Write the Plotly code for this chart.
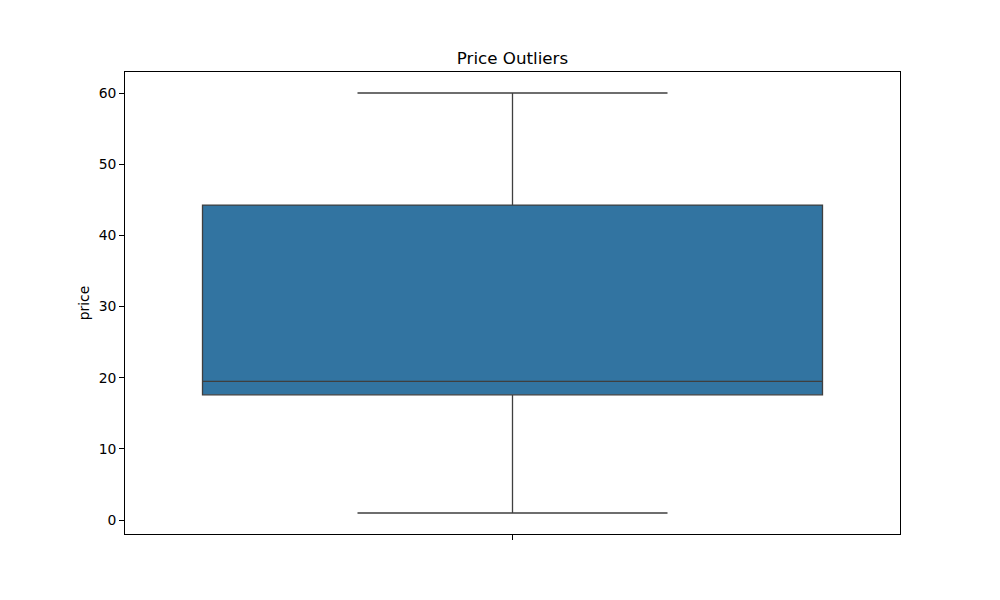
import plotly.graph_objects as go

# Box statistics for price
category = [""]
q1 = [17.6]
median = [19.5]
q3 = [44.25]
lower_fence = [1.0]
upper_fence = [60.0]
y_ticks = [0, 10, 20, 30, 40, 50, 60]

fig = go.Figure()
fig.add_trace(go.Box(
    x=[0],
    q1=q1, median=median, q3=q3,
    lowerfence=lower_fence, upperfence=upper_fence,
    width=0.8, whiskerwidth=0.5,
    fillcolor="#3274a1",
    line=dict(color="#3f3f3f", width=1.3),
    boxpoints=False,
    showlegend=False,
    hoverinfo="y",
))

font_family = "DejaVu Sans"
fig.update_layout(
    width=1000, height=600,
    paper_bgcolor="white", plot_bgcolor="white",
    margin=dict(l=125, r=100, t=72, b=66),
    title=dict(text="Price Outliers", x=0.5125, xanchor="center", y=1 - 58/600, yanchor="middle",
               font=dict(family=font_family, size=16.7, color="black")),
    font=dict(family=font_family, size=13.9, color="black"),
)
fig.update_xaxes(
    range=[-0.5, 0.5], tickmode="array", tickvals=[0], ticktext=category,
    ticks="outside", ticklen=4.9, tickcolor="black", tickwidth=1,
    showline=True, linecolor="black", linewidth=1, mirror=True,
    showgrid=False, zeroline=False,
)
fig.update_yaxes(
    range=[-1.95, 62.95], tickmode="array", tickvals=y_ticks,
    ticktext=[str(v) for v in y_ticks],
    ticks="outside", ticklen=4.9, tickcolor="black", tickwidth=1,
    showline=True, linecolor="black", linewidth=1, mirror=True,
    showgrid=False, zeroline=False,
    title=dict(text="price", font=dict(family=font_family, size=13.9), standoff=5),
)

fig.write_html("out.html")
